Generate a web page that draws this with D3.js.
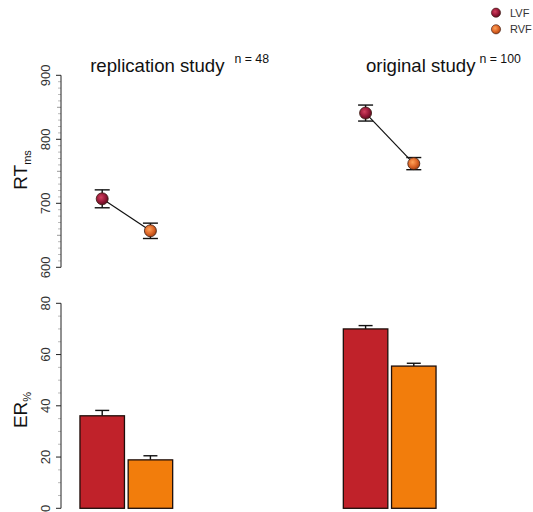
<!DOCTYPE html>
<html>
<head>
<meta charset="utf-8">
<script src="https://cdn.jsdelivr.net/npm/d3@7"></script>
<style>
  body { margin: 0; background: #fff; }
  svg { font-family: "Liberation Sans", Arial, sans-serif; display: block; }
</style>
</head>
<body>
<div id="chart"></div>
<script>
// Data
const studies = ["replication study", "original study"];
const sampleSizes = [48, 100];
const conditions = ["LVF", "RVF"];
const rtMeans = [[707, 657], [841, 762]];
const rtErrors = [[14, 12], [12.5, 9.5]];
const erMeans = [[36.1, 18.9], [70.0, 55.5]];
const erErrors = [[2.1, 1.6], [1.3, 1.1]];
const rtTicks = [600, 700, 800, 900];
const erTicks = [0, 20, 40, 60, 80];

const width = 533, height = 512;
const axisX = 61;
const titleGap = [10, 4];

const svg = d3.select("#chart").append("svg")
    .attr("width", width)
    .attr("height", height);

// gradients for the "ball" markers
const defs = svg.append("defs");
const ballColors = {LVF: ["#d2405e", "#9a1a3a", "#5a0a1e"], RVF: ["#ffa45a", "#e0692a", "#a8400e"]};
conditions.forEach(c => {
    const g = defs.append("radialGradient").attr("id", `ball-${c}`)
        .attr("cx", "40%").attr("cy", "38%").attr("r", "65%");
    g.append("stop").attr("offset", "0%").attr("stop-color", ballColors[c][0]);
    g.append("stop").attr("offset", "55%").attr("stop-color", ballColors[c][1]);
    g.append("stop").attr("offset", "100%").attr("stop-color", ballColors[c][2]);
});
const barColors = {LVF: "#c0222a", RVF: "#f27d0c"};

// scales
const xStudy = d3.scaleBand().domain(studies).range([axisX, 455]).paddingInner(0.648).paddingOuter(0.072);
const xCond = d3.scaleBand().domain(conditions).range([0, xStudy.bandwidth()]).paddingInner(0.077);
const yRT = d3.scaleLinear().domain([600, 900]).range([267.3, 75.3]);
const yER = d3.scaleLinear().domain([0, 80]).range([508.3, 303.3]);

function drawAxis(scale, majors, minorStep, midStep) {
    const g = svg.append("g").attr("transform", `translate(${axisX},0)`);
    const [lo, hi] = scale.domain();
    const minors = d3.range(lo, hi + 0.001, minorStep).filter(v => !majors.includes(v));
    minors.forEach(v => {
        const mid = midStep && (v - lo) % midStep === 0;
        g.append("line")
            .attr("x1", mid ? -4 : -3).attr("x2", 0)
            .attr("y1", scale(v)).attr("y2", scale(v))
            .attr("stroke", mid ? "#999" : "#bbb").attr("stroke-width", 1);
    });
    g.append("line").attr("x1", 0).attr("x2", 0)
        .attr("y1", scale(hi)).attr("y2", scale(lo))
        .attr("stroke", "#222").attr("stroke-width", 1);
    majors.forEach(v => {
        g.append("line").attr("x1", -5).attr("x2", 0)
            .attr("y1", scale(v)).attr("y2", scale(v))
            .attr("stroke", "#222").attr("stroke-width", 1);
        g.append("text")
            .attr("transform", `translate(-11,${scale(v)}) rotate(-90)`)
            .attr("text-anchor", "middle")
            .attr("font-size", 13)
            .attr("fill", "#333")
            .text(v);
    });
}

drawAxis(yRT, rtTicks, 10, 50);
drawAxis(yER, erTicks, 5, null);

// axis titles with subscripts
function axisTitle(main, sub, cy) {
    const t = svg.append("text")
        .attr("transform", `translate(27,${cy}) rotate(-90)`)
        .attr("text-anchor", "middle")
        .attr("fill", "#111");
    t.append("tspan").attr("font-size", 19).text(main);
    t.append("tspan").attr("font-size", 11).attr("dy", 4).text(sub);
}
axisTitle("RT", "ms", 170);
axisTitle("ER", "%", 410);

// study titles
studies.forEach((s, i) => {
    const cx = xStudy(s) + xStudy.bandwidth() / 2 + 31;
    const t = svg.append("text")
        .attr("x", cx).attr("y", 71.7)
        .attr("text-anchor", "middle")
        .attr("font-size", 18.6)
        .attr("fill", "#111")
        .text(s);
    const w = t.node().getComputedTextLength();
    svg.append("text")
        .attr("x", cx + w / 2 + titleGap[i]).attr("y", 62.5)
        .attr("font-size", 12.3)
        .attr("fill", "#111")
        .text(`n = ${sampleSizes[i]}`);
});

// RT panel: connected points with error bars
const cx = (s, c) => xStudy(s) + xCond(c) + xCond.bandwidth() / 2;
studies.forEach((s, i) => {
    svg.append("line")
        .attr("x1", cx(s, "LVF")).attr("y1", yRT(rtMeans[i][0]))
        .attr("x2", cx(s, "RVF")).attr("y2", yRT(rtMeans[i][1]))
        .attr("stroke", "#111").attr("stroke-width", 1.2);
    conditions.forEach((c, j) => {
        const x = cx(s, c);
        const top = yRT(rtMeans[i][j] + rtErrors[i][j]);
        const bot = yRT(rtMeans[i][j] - rtErrors[i][j]);
        const eb = svg.append("g").attr("stroke", "#111").attr("stroke-width", 1.4);
        eb.append("line").attr("x1", x).attr("x2", x).attr("y1", top).attr("y2", bot);
        eb.append("line").attr("x1", x - 7.5).attr("x2", x + 7.5).attr("y1", top).attr("y2", top);
        eb.append("line").attr("x1", x - 7.5).attr("x2", x + 7.5).attr("y1", bot).attr("y2", bot);
        svg.append("circle")
            .attr("cx", x).attr("cy", yRT(rtMeans[i][j]))
            .attr("r", 6)
            .attr("fill", `url(#ball-${c})`)
            .attr("stroke", "#3a1a10").attr("stroke-width", 0.8);
    });
});

// ER panel: bars with upper error bars
studies.forEach((s, i) => {
    conditions.forEach((c, j) => {
        const x0 = xStudy(s) + xCond(c);
        const x = x0 + xCond.bandwidth() / 2;
        const top = yER(erMeans[i][j] + erErrors[i][j]);
        const eb = svg.append("g").attr("stroke", "#111").attr("stroke-width", 1.4);
        eb.append("line").attr("x1", x).attr("x2", x).attr("y1", top).attr("y2", yER(erMeans[i][j]));
        eb.append("line").attr("x1", x - 7).attr("x2", x + 7).attr("y1", top).attr("y2", top);
        svg.append("rect")
            .attr("x", x0).attr("y", yER(erMeans[i][j]))
            .attr("width", xCond.bandwidth())
            .attr("height", yER(0) - yER(erMeans[i][j]))
            .attr("fill", barColors[c])
            .attr("stroke", "#1e0e0a").attr("stroke-width", 1.3);
    });
});

// legend
const legend = svg.append("g");
conditions.forEach((c, j) => {
    const y = 12.7 + j * 16.6;
    legend.append("circle").attr("cx", 496).attr("cy", y).attr("r", 4.6)
        .attr("fill", `url(#ball-${c})`).attr("stroke", "#3a1a10").attr("stroke-width", 0.6);
    legend.append("text").attr("x", 510).attr("y", y + 4)
        .attr("font-size", 11).attr("fill", "#333").text(c);
});
</script>
</body>
</html>
